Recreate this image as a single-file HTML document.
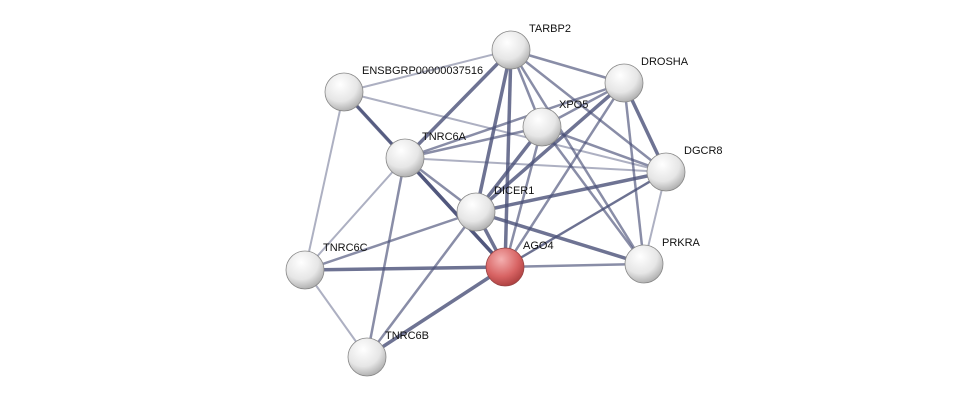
<!DOCTYPE html>
<html><head><meta charset="utf-8"><style>
html,body{margin:0;padding:0;background:#fff;width:975px;height:402px;overflow:hidden}
text{font-family:"Liberation Sans",sans-serif;font-size:11px;fill:#111}
</style></head><body>
<svg width="975" height="402" viewBox="0 0 975 402" xmlns="http://www.w3.org/2000/svg">
<defs>
<radialGradient id="g" cx="0.4" cy="0.3" r="0.75">
<stop offset="0" stop-color="#ffffff"/><stop offset="0.6" stop-color="#e6e6e6"/><stop offset="1" stop-color="#a8a8a8"/>
</radialGradient>
<radialGradient id="r" cx="0.4" cy="0.3" r="0.75">
<stop offset="0" stop-color="#f4b0b0"/><stop offset="0.6" stop-color="#d86464"/><stop offset="1" stop-color="#a83c3c"/>
</radialGradient>
</defs>
<g stroke="#4a5078" fill="none">
<!-- thick edges -->
<g stroke-width="3.5" stroke-opacity="0.8">
<line x1="344" y1="92" x2="505" y2="267"/>
<line x1="405" y1="158" x2="505" y2="267"/>
<line x1="476" y1="212" x2="505" y2="267"/>
<line x1="511" y1="50" x2="476" y2="212"/>
<line x1="511" y1="50" x2="505" y2="267"/>
<line x1="511" y1="50" x2="405" y2="158"/>
<line x1="624" y1="83" x2="476" y2="212"/>
<line x1="666" y1="172" x2="476" y2="212"/>
<line x1="542" y1="127" x2="476" y2="212"/>
<line x1="624" y1="83" x2="666" y2="172"/>
<line x1="476" y1="212" x2="644" y2="264"/>
<line x1="305" y1="270" x2="505" y2="267"/>
<line x1="367" y1="357" x2="505" y2="267"/>
</g>
<g stroke-width="2.5" stroke-opacity="0.65">
<line x1="511" y1="50" x2="624" y2="83"/>
<line x1="511" y1="50" x2="542" y2="127"/>
<line x1="511" y1="50" x2="666" y2="172"/>
<line x1="511" y1="50" x2="644" y2="264"/>
<line x1="624" y1="83" x2="542" y2="127"/>
<line x1="624" y1="83" x2="505" y2="267"/>
<line x1="624" y1="83" x2="644" y2="264"/>
<line x1="624" y1="83" x2="405" y2="158"/>
<line x1="542" y1="127" x2="405" y2="158"/>
<line x1="542" y1="127" x2="505" y2="267"/>
<line x1="542" y1="127" x2="666" y2="172"/>
<line x1="542" y1="127" x2="644" y2="264"/>
<line x1="405" y1="158" x2="476" y2="212"/>
<line x1="405" y1="158" x2="367" y2="357"/>
<line x1="476" y1="212" x2="367" y2="357"/>
<line x1="476" y1="212" x2="305" y2="270"/>
<line x1="505" y1="267" x2="644" y2="264"/>
<line x1="505" y1="267" x2="666" y2="172"/>
<line x1="344" y1="92" x2="405" y2="158"/>
</g>
<g stroke-width="2" stroke-opacity="0.45">
<line x1="344" y1="92" x2="305" y2="270"/>
<line x1="344" y1="92" x2="511" y2="50"/>
<line x1="344" y1="92" x2="666" y2="172"/>
<line x1="405" y1="158" x2="305" y2="270"/>
<line x1="405" y1="158" x2="666" y2="172"/>
<line x1="305" y1="270" x2="367" y2="357"/>
<line x1="666" y1="172" x2="644" y2="264"/>
<line x1="666" y1="172" x2="505" y2="267"/>
</g>
</g>
<g stroke="#888" stroke-width="0.8">
<circle cx="511" cy="50" r="19" fill="url(#g)"/>
<circle cx="624" cy="83" r="19" fill="url(#g)"/>
<circle cx="344" cy="92" r="19" fill="url(#g)"/>
<circle cx="542" cy="127" r="19" fill="url(#g)"/>
<circle cx="405" cy="158" r="19" fill="url(#g)"/>
<circle cx="666" cy="172" r="19" fill="url(#g)"/>
<circle cx="476" cy="212" r="19" fill="url(#g)"/>
<circle cx="644" cy="264" r="19" fill="url(#g)"/>
<circle cx="305" cy="270" r="19" fill="url(#g)"/>
<circle cx="367" cy="357" r="19" fill="url(#g)"/>
<circle cx="505" cy="267" r="19" fill="url(#r)" stroke="#944"/>
</g>
<text x="529" y="32">TARBP2</text>
<text x="641" y="65">DROSHA</text>
<text x="362" y="74">ENSBGRP00000037516</text>
<text x="559" y="108">XPO5</text>
<text x="422" y="140">TNRC6A</text>
<text x="684" y="154">DGCR8</text>
<text x="494" y="194">DICER1</text>
<text x="523" y="249">AGO4</text>
<text x="662" y="246">PRKRA</text>
<text x="323" y="251">TNRC6C</text>
<text x="385" y="339">TNRC6B</text>
</svg>
</body></html>
